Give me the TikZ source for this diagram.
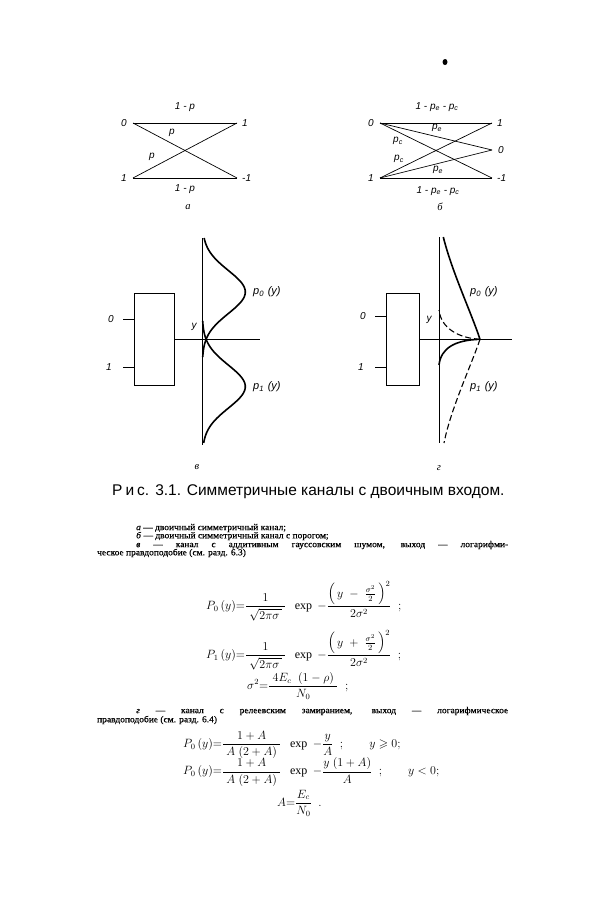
\documentclass[tikz,border=0pt]{standalone}
\usepackage{amsmath,amssymb}
\usepackage{fontspec}
\setmainfont{Liberation Serif}
\setsansfont{Liberation Sans}
\newfontfamily\capfont{Liberation Sans}
\newfontfamily\legendfont[FakeBold=0.4,FakeStretch=1.05]{Liberation Serif}
\usetikzlibrary{positioning}
\newcommand{\bodyfont}{\legendfont\fontsize{9}{9}\selectfont}
\tikzstyle{lbl}     = [font=\sffamily\itshape\fontsize{10}{12}\selectfont, inner sep=1pt]
\tikzstyle{plbl}    = [font=\sffamily\itshape\fontsize{11}{12}\selectfont, inner sep=1pt, anchor=west]
\tikzstyle{sub}     = [font=\rmfamily\itshape\fontsize{10.5}{12}\selectfont, inner sep=1pt]
\tikzstyle{line}    = [draw, line width=0.7pt]
\tikzstyle{curve}   = [draw, line width=1.6pt]
\tikzstyle{dcurve}  = [draw, line width=1.1pt, dash pattern=on 6pt off 3pt]
\tikzstyle{block}   = [draw, line width=0.7pt, minimum width=40pt, minimum height=92.5pt, inner sep=0pt]
\tikzstyle{body}    = [font=\bodyfont, inner sep=0pt, anchor=west]
\tikzstyle{formula} = [font=\fontsize{12}{13}\selectfont, inner sep=0pt, anchor=west]
\tikzstyle{capt}    = [font=\capfont\fontsize{15.5}{17}\selectfont, inner sep=0pt, anchor=west]

\begin{document}
\begin{tikzpicture}[x=1pt, y=-1pt]
	\useasboundingbox (0,0) rectangle (611,900);
	\fill[white] (0,0) rectangle (611,900);
	\fill (445,62) ellipse (2.5 and 3);
	% Node Setting: a %
	\coordinate (a0) at (133,123);
	\coordinate (a1) at (133,178);
	\coordinate (ao1) at (237,123);
	\coordinate (aom1) at (237,178);
	\node [lbl, left=5pt of a0] (la0) {0};
	\node [lbl, left=5pt of a1] (la1) {1};
	\node [lbl, right=4pt of ao1] (lao1) {1};
	\node [lbl, right=4pt of aom1] (laom1) {-1};
	\node [lbl] (aq1) at (185,107) {1 - p};
	\node [lbl] (ap1) at (172,133) {p};
	\node [lbl] (ap2) at (152,157) {p};
	\node [lbl] (aq2) at (185,189) {1 - p};
	\node [sub] (na) at (188,207) {а};
	% Connection: a %
	\path [line] (a0) -- (ao1);
	\path [line] (a0) -- (aom1);
	\path [line] (a1) -- (ao1);
	\path [line] (a1) -- (aom1);
	% Node Setting: b %
	\coordinate (b0) at (380,123);
	\coordinate (b1) at (380,178);
	\coordinate (bo1) at (492,123);
	\coordinate (bo0) at (492,150);
	\coordinate (bom1) at (492,178);
	\node [lbl, left=5pt of b0] (lb0) {0};
	\node [lbl, left=5pt of b1] (lb1) {1};
	\node [lbl, right=4pt of bo1] (lbo1) {1};
	\node [lbl, right=5pt of bo0] (lbo0) {0};
	\node [lbl, right=4pt of bom1] (lbom1) {-1};
	\node [lbl] (bq1) at (437,107) {1 - p\textsubscript{e} - p\textsubscript{c}};
	\node [lbl] (be1) at (437,128) {p\textsubscript{e}};
	\node [lbl] (bc1) at (398,141) {p\textsubscript{c}};
	\node [lbl] (bc2) at (399,159) {p\textsubscript{c}};
	\node [lbl] (be2) at (438,170) {p\textsubscript{e}};
	\node [lbl] (bq2) at (438,191) {1 - p\textsubscript{e} - p\textsubscript{c}};
	\node [sub] (nb) at (440,207) {б};
	% Connection: b %
	\path [line] (b0) -- (bo1);
	\path [line] (b0) -- (bo0);
	\path [line] (b0) -- (bom1);
	\path [line] (b1) -- (bo1);
	\path [line] (b1) -- (bo0);
	\path [line] (b1) -- (bom1);
	% Node Setting: v %
	\node [block] (boxv) at (154.2,339.5) {};
	\coordinate (vin0) at (123,319);
	\coordinate (vin1) at (123,367);
	\node [lbl, left=8pt of vin0] (lv0) {0};
	\node [lbl, left=10pt of vin1] (lv1) {1};
	\coordinate (vtop) at (202.3,238);
	\coordinate (vbot) at (202.3,445);
	\coordinate (vend) at (260,339.3);
	\node [lbl] (vy) at (194,327) {y};
	\node [plbl] (vp0) at (252,292) {p\textsubscript{0}\,\,(y)};
	\node [plbl] (vp1) at (252,387) {p\textsubscript{1}\,\,(y)};
	\node [sub] (nv) at (197,467) {в};
	% Connection: v %
	\path [line] (vin0) -- (vin0 -| boxv.west);
	\path [line] (vin1) -- (vin1 -| boxv.west);
	\path [line] (boxv.east |- vend) -- (vend);
	\path [line] (vtop) -- (vbot);
	\draw [curve] plot [domain=238:357, samples=80, smooth] ({202.3+43*exp(-((\x-292)^2)/(2*21.5^2))}, \x);
	\draw [curve] plot [domain=321:443, samples=80, smooth] ({202.3+43*exp(-((\x-386.6)^2)/(2*21.5^2))}, \x);
	% Node Setting: g %
	\node [block, minimum width=33.3pt] (boxg) at (402.7,339.5) {};
	\coordinate (gin0) at (375,316);
	\coordinate (gin1) at (375,367);
	\node [lbl, left=8pt of gin0] (lg0) {0};
	\node [lbl, left=10pt of gin1] (lg1) {1};
	\coordinate (gtop) at (439,237);
	\coordinate (gbot) at (439,443);
	\coordinate (gend) at (511.7,339.3);
	\coordinate (gcusp) at (480,339.3);
	\coordinate (gs1) at (443.3,237);
	\coordinate (gs2) at (439,365);
	\coordinate (gd1) at (439,310);
	\coordinate (gd2) at (444,443);
	\node [lbl] (gy) at (429,320) {y};
	\node [plbl] (gp0) at (469,292) {p\textsubscript{0}\,\,(y)};
	\node [plbl] (gp1) at (469,387) {p\textsubscript{1}\,\,(y)};
	\node [sub] (ng) at (439,468) {г};
	% Connection: g %
	\path [line] (gin0) -- (gin0 -| boxg.west);
	\path [line] (gin1) -- (gin1 -| boxg.west);
	\path [line] (boxg.east |- gend) -- (gend);
	\path [line] (gtop) -- (gbot);
	\path [curve] (gcusp) .. controls (471,312) and (452,272) .. (gs1);
	\path [curve] (gcusp) .. controls (455,340) and (441,348) .. (gs2);
	\path [dcurve] (gcusp) .. controls (458,338) and (441,328) .. (gd1);
	\path [dcurve] (gcusp) .. controls (471,366) and (451,408) .. (gd2);
	% Caption and text %
	\node [capt] (cap) at (112,492) {Р\hspace{3pt}и\hspace{3pt}с.\hspace{6pt}3.1. Симметричные каналы с двоичным входом.};
	\node [body] (ta) at (136,528) {\textit{а} — двоичный симметричный канал;};
	\node [body] (tb) at (136,536) {\textit{б} — двоичный симметричный канал с порогом;};
	\node [body] (tv) at (136,545) {\makebox[372pt][s]{\textit{в} — канал с аддитивным гауссовским шумом, выход — логарифми-}};
	\node [body] (tv2) at (97,553) {ческое правдоподобие (см. разд. 6.3)};
	\node [formula] (f1) at (206,601) {$\displaystyle P_0\,(y){=}\frac{1}{\;\sqrt{2\pi\sigma\,}\;}\;\;\exp\;-\frac{\left(\,y\;-\;\frac{\sigma^2}{2}\,\right)^2}{2\sigma^2}\;\;;$};
	\node [formula] (f2) at (206,650) {$\displaystyle P_1\,(y){=}\frac{1}{\;\sqrt{2\pi\sigma\,}\;}\;\;\exp\;-\frac{\left(\,y\;+\;\frac{\sigma^2}{2}\,\right)^2}{2\sigma^2}\;\;;$};
	\node [formula] (f3) at (247,686) {$\displaystyle \sigma^2{=}\frac{\;4E_c\;\;(1-\rho)\;}{N_0}\;\;;$};
	\node [body] (tg) at (136,711) {\makebox[372pt][s]{\textit{г} — канал с релеевским замиранием, выход — логарифмическое}};
	\node [body] (tg2) at (97,720) {правдоподобие (см. разд. 6.4)};
	\node [formula] (f4) at (183,745) {$\displaystyle P_0\,(y){=}\frac{1+A}{\;A\;(2+A)\;}\;\;\exp\;-\frac{y}{A}\;\;;\qquad y\geqslant 0;$};
	\node [formula] (f5) at (183,772) {$\displaystyle P_0\,(y){=}\frac{1+A}{\;A\;(2+A)\;}\;\;\exp\;-\frac{y\;(1+A)}{A}\;\;;\qquad y<0;$};
	\node [formula] (f6) at (277,803) {$\displaystyle A{=}\frac{E_c}{N_0}\;\;.$};
\end{tikzpicture}
\end{document}
